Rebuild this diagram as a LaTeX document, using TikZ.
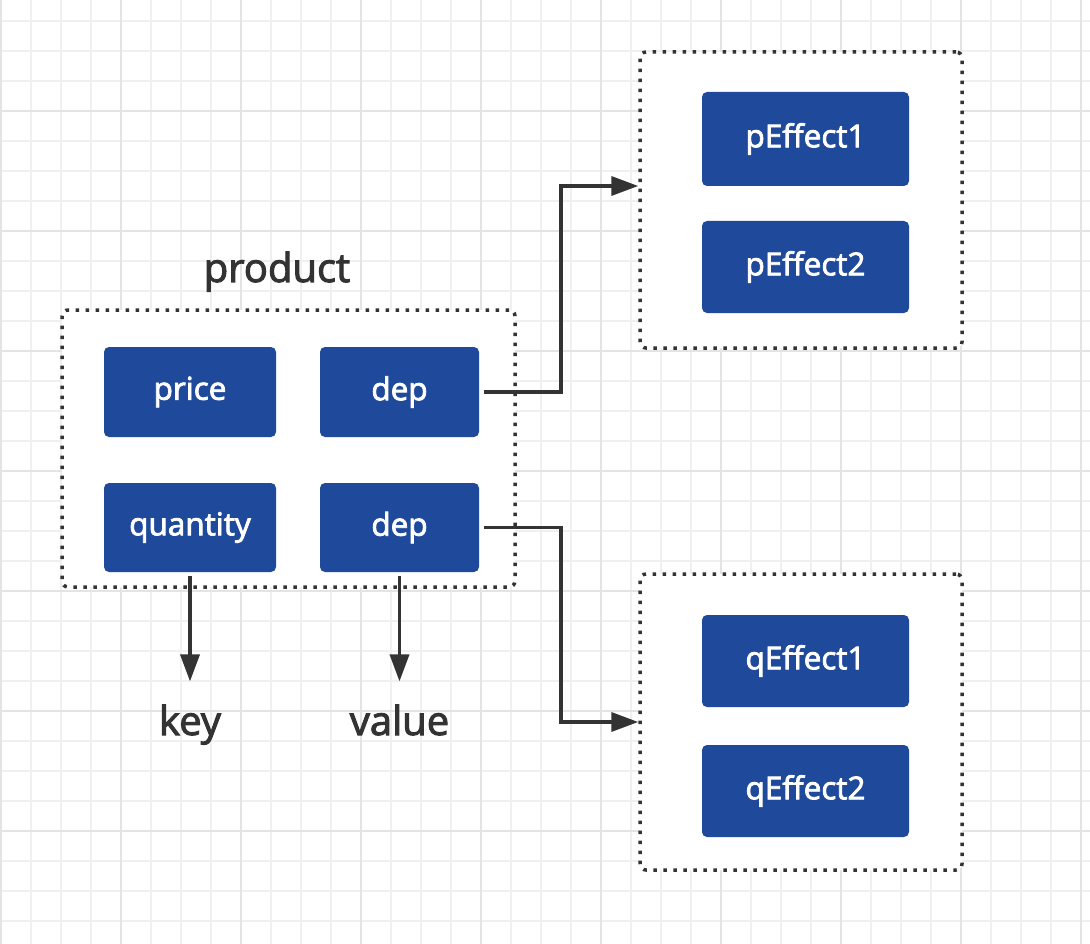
\documentclass[tikz,border=0pt]{standalone}
\usepackage{fontspec}
\setmainfont{Open Sans}
\newfontfamily\mediumfont[FakeBold=2.5]{Open Sans}
\usetikzlibrary{arrows.meta}
\definecolor{effectColor}{HTML}{1F4A9B}
\definecolor{inkColor}{HTML}{333333}
\definecolor{gridMinor}{HTML}{F0F0F0}
\definecolor{gridMajor}{HTML}{E4E4E4}
\tikzset{
  field/.style={fill=effectColor, rounded corners=5pt, text=white, inner sep=0pt,
    font=\mediumfont\fontsize{31.5}{36}\selectfont},
  groupbox/.style={draw=inkColor, fill=white, line width=3.5pt, dash pattern=on 3.5pt off 6.5pt,
    rounded corners=6pt, inner sep=0pt},
  link/.style={draw=inkColor, line width=3.5pt, -{Triangle[length=27pt,width=19pt]}},
  tagtext/.style={text=inkColor, inner sep=0pt, font=\mediumfont\fontsize{40}{48}\selectfont}
}
\begin{document}
\begin{tikzpicture}[x=1pt, y=-1pt]
  \useasboundingbox (0,0) rectangle (1090,944);
  \fill[white] (0,0) rectangle (1090,944);
  % grid
  \foreach \x in {0.7,30.7,...,1090} \draw[gridMinor, line width=2pt] (\x,0) -- (\x,944);
  \foreach \y in {20.7,50.7,...,944} \draw[gridMinor, line width=2pt] (0,\y) -- (1090,\y);
  \foreach \x in {0.7,120.7,...,1090} \draw[gridMajor, line width=2pt] (\x,0) -- (\x,944);
  \foreach \y in {110.7,230.7,...,944} \draw[gridMajor, line width=2pt] (0,\y) -- (1090,\y);

  % groups
  \node[groupbox, minimum width=453pt, minimum height=277pt] (prodBox) at (288.5,448.5) {};
  \node[groupbox, minimum width=322pt, minimum height=296pt] (pBox) at (801,200) {};
  \node[groupbox, minimum width=322pt, minimum height=296pt] (qBox) at (801,722) {};
  \node[tagtext, anchor=base] (title) at (277,282) {product};

  % fields
  \node[field, minimum width=172pt, minimum height=90pt] (price) at (190,392) {price};
  \node[field, minimum width=159pt, minimum height=90pt] (dep1) at (399.5,392) {dep};
  \node[field, minimum width=172pt, minimum height=89pt] (quantity) at (190,527.5) {quantity};
  \node[field, minimum width=159pt, minimum height=89pt] (dep2) at (399.5,527.5) {dep};
  \node[field, minimum width=207pt, minimum height=94pt] (pEffect1) at (805.5,139) {pEffect1};
  \node[field, minimum width=207pt, minimum height=92pt] (pEffect2) at (805.5,267) {pEffect2};
  \node[field, minimum width=207pt, minimum height=92pt] (qEffect1) at (805.5,661) {qEffect1};
  \node[field, minimum width=207pt, minimum height=92pt] (qEffect2) at (805.5,791) {qEffect2};

  \node[tagtext, anchor=base] (key) at (190,735) {key};
  \node[tagtext, anchor=base] (value) at (399.5,735) {value};

  % links
  \draw[link] ([xshift=5pt]dep1.east) -- ++(77,0) |- ([yshift=14pt]pBox.west);
  \draw[link] ([xshift=5pt]dep2.east) -- ++(77,0) |- (qBox.west);
  \draw[link] ([yshift=-4pt]quantity.south) -- ([yshift=23pt]key.north);
  \draw[link] ([yshift=-4pt]dep2.south) -- ([yshift=23pt]value.north);
\end{tikzpicture}
\end{document}
